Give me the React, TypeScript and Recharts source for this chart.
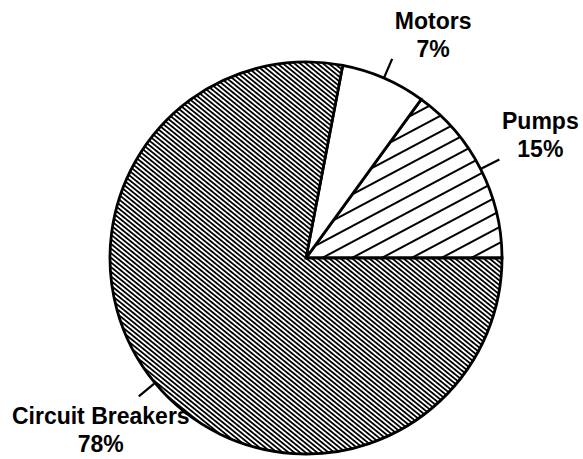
import React from 'react';
import { PieChart, Pie, Cell } from 'recharts';

// slices, counter-clockwise from 3 o'clock
const NAMES = ['Pumps', 'Motors', 'Circuit Breakers'];
const VALUES = [15, 7, 78];
const FILLS = ['url(#widehatch)', '#ffffff', 'url(#densehatch)'];

const data = NAMES.map((name, i) => ({ name, value: VALUES[i] }));

const RAD = Math.PI / 180;

const renderLabel = (props: any) => {
    const { cx, cy, midAngle, outerRadius, name, value } = props;
    const cos = Math.cos(-midAngle * RAD);
    const sin = Math.sin(-midAngle * RAD);
    const x1 = cx + (outerRadius + 1) * cos;
    const y1 = cy + (outerRadius + 1) * sin;
    const x2 = cx + (outerRadius + 21) * cos;
    const y2 = cy + (outerRadius + 21) * sin;
    const tx = x2 + (cos >= 0 ? 41 : -38);
    const ty = y2 + (sin <= 0 ? -24 : 34);
    return (
        <g>
            <line x1={x1} y1={y1} x2={x2} y2={y2} stroke="#000" strokeWidth={2.2} />
            <text
                x={tx}
                y={ty}
                textAnchor="middle"
                fill="#000"
                fontFamily="'Liberation Sans', Arial, sans-serif"
                fontWeight="bold"
                fontSize={23}
            >
                <tspan x={tx} dy={-6}>{name}</tspan>
                <tspan x={tx} dy={28}>{value}%</tspan>
            </text>
        </g>
    );
};

export default function App() {
    return (
        <div style={{ position: 'absolute', left: 0, top: 0, width: 583, height: 459, background: '#fff' }}>
            <PieChart width={583} height={459} margin={{ top: 0, right: 0, bottom: 0, left: 0 }}>
                <defs>
                    <pattern id="densehatch" patternUnits="userSpaceOnUse" width="3.6" height="3.6" patternTransform="rotate(39)">
                        <rect width="3.6" height="3.6" fill="#fff" />
                        <rect y="0" width="3.6" height="1.9" fill="#000" shapeRendering="crispEdges" />
                    </pattern>
                    <pattern id="widehatch" patternUnits="userSpaceOnUse" width="14" height="14" patternTransform="rotate(-28)">
                        <rect width="14" height="14" fill="#fff" />
                        <rect y="0" width="14" height="2" fill="#000" />
                    </pattern>
                </defs>
                <Pie
                    data={data}
                    dataKey="value"
                    nameKey="name"
                    cx={306}
                    cy={258}
                    outerRadius={196}
                    startAngle={0}
                    endAngle={360}
                    stroke="#000"
                    strokeWidth={2.8}
                    label={renderLabel}
                    labelLine={false}
                    isAnimationActive={false}
                >
                    {data.map((entry, i) => (
                        <Cell key={entry.name} fill={FILLS[i]} />
                    ))}
                </Pie>
            </PieChart>
        </div>
    );
}
